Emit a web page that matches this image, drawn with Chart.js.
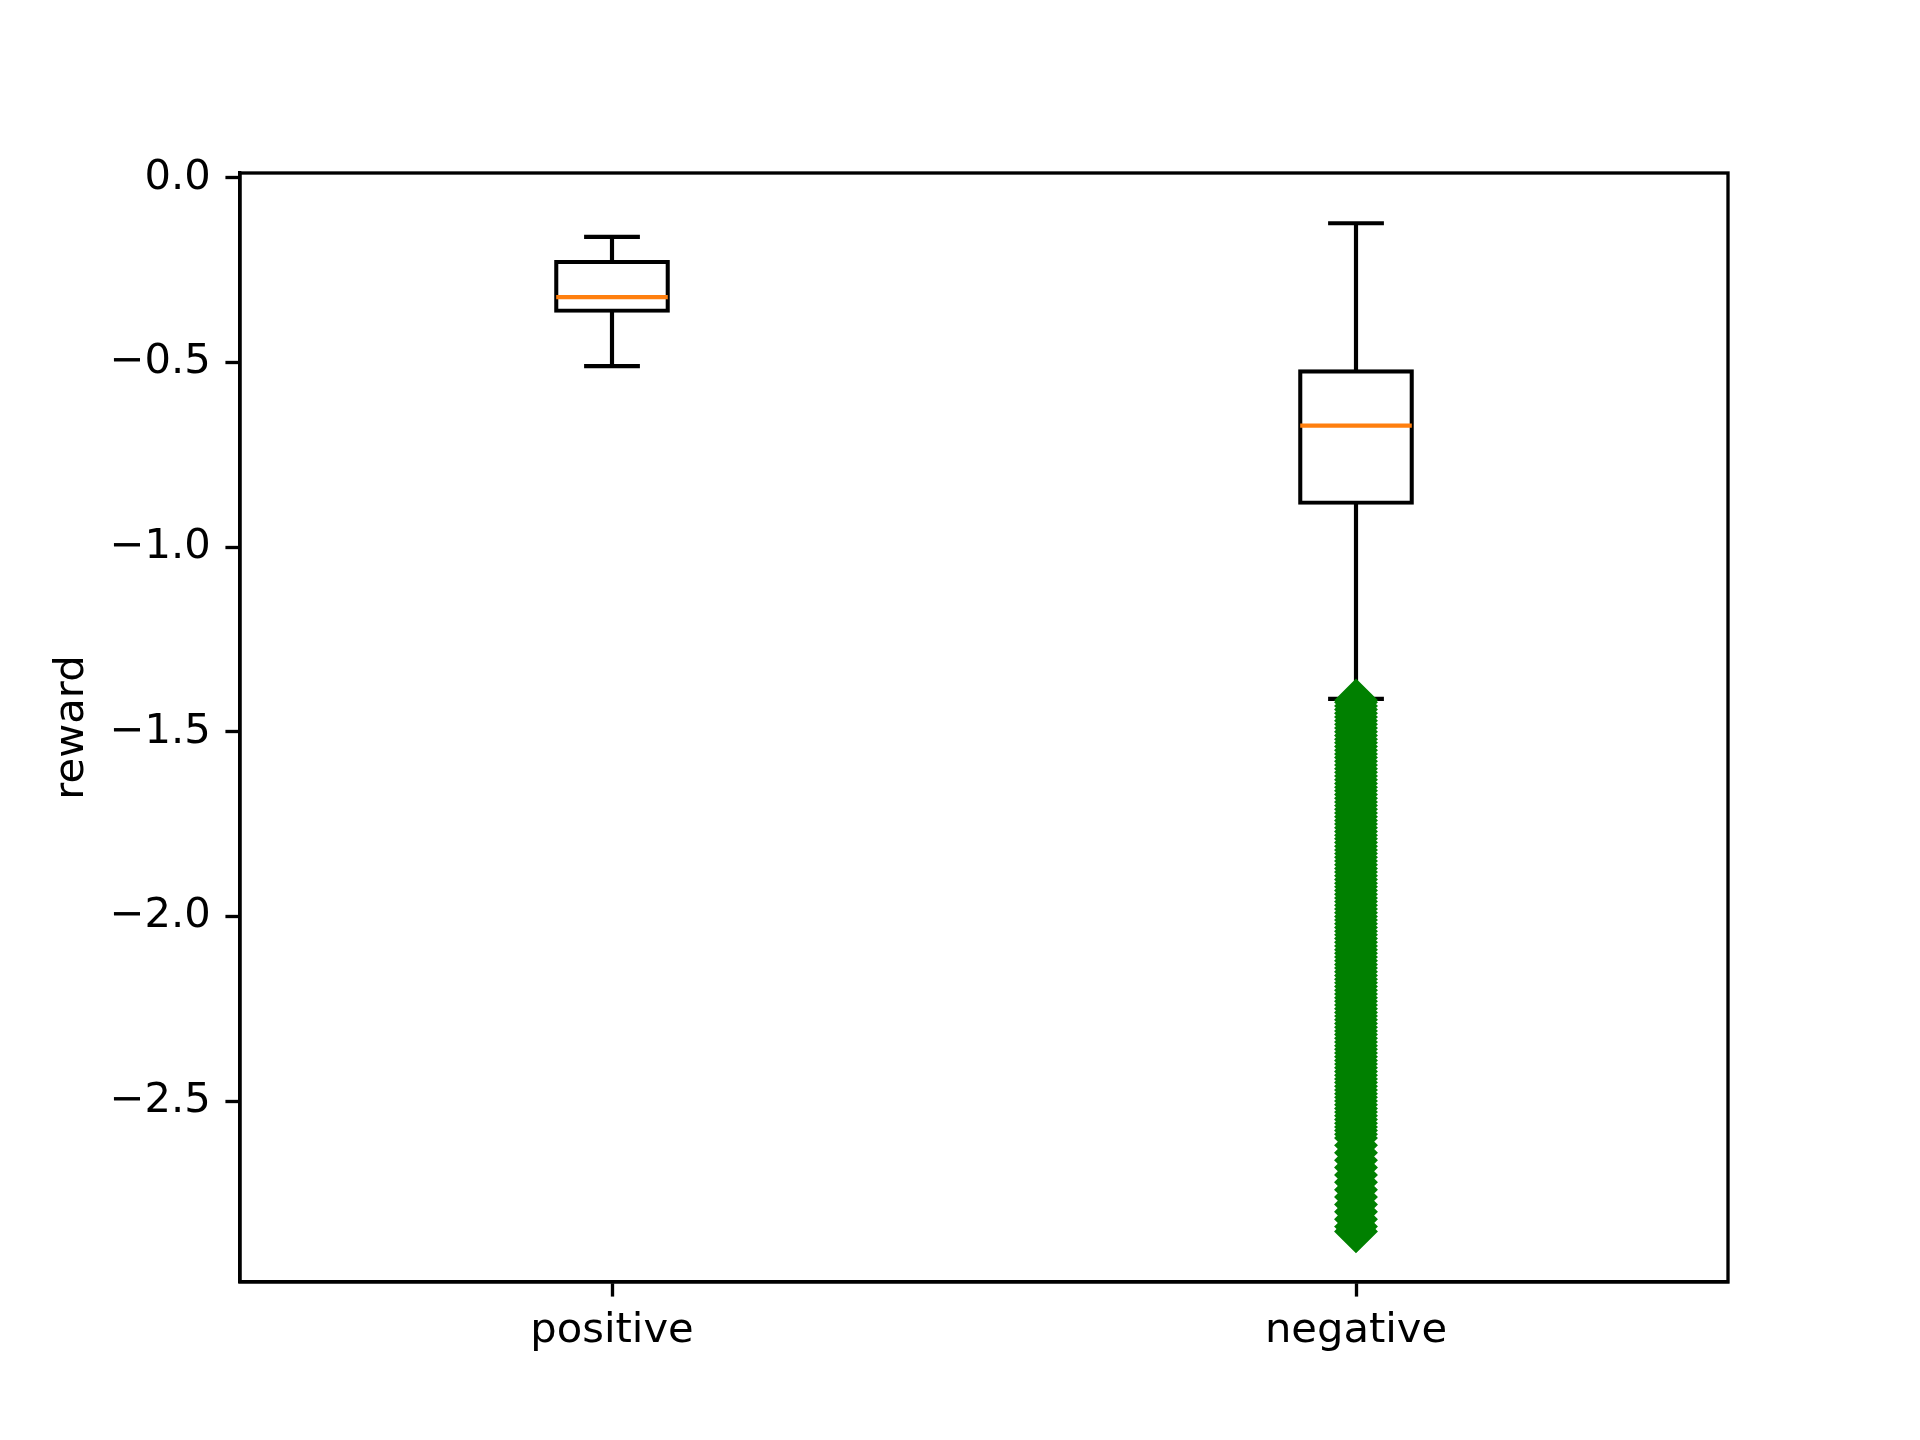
<!DOCTYPE html>
<html>
<head>
<meta charset="utf-8">
<script src="https://cdn.jsdelivr.net/npm/chart.js@4/dist/chart.umd.min.js"></script>
<style>
  html, body { margin: 0; padding: 0; background: #ffffff; }
  #wrap { width: 1920px; height: 1440px; }
</style>
</head>
<body>
<div id="wrap"><canvas id="c" width="1920" height="1440"></canvas></div>
<script>
// ---- data ----
const categories = ['positive', 'negative'];
const whiskerLow  = [-0.51, -1.411];
const q1          = [-0.36, -0.880];
const medians     = [-0.323, -0.671];
const q3          = [-0.228, -0.524];
const whiskerHigh = [-0.16, -0.123];
const negativeOutliers = [
  -1.415,-1.42,-1.43,-1.44,-1.45,-1.46,-1.47,-1.48,-1.49,
  -1.50,-1.51,-1.52,-1.53,-1.54,-1.55,-1.56,-1.57,-1.58,-1.59,
  -1.60,-1.61,-1.62,-1.63,-1.64,-1.65,-1.66,-1.67,-1.68,-1.69,
  -1.70,-1.71,-1.72,-1.73,-1.74,-1.75,-1.76,-1.77,-1.78,-1.79,
  -1.80,-1.81,-1.82,-1.83,-1.84,-1.85,-1.86,-1.87,-1.88,-1.89,
  -1.90,-1.91,-1.92,-1.93,-1.94,-1.95,-1.96,-1.97,-1.98,-1.99,
  -2.00,-2.01,-2.02,-2.03,-2.04,-2.05,-2.06,-2.07,-2.08,-2.09,
  -2.10,-2.11,-2.12,-2.13,-2.14,-2.15,-2.16,-2.17,-2.18,-2.19,
  -2.20,-2.21,-2.22,-2.23,-2.24,-2.25,-2.26,-2.27,-2.28,-2.29,
  -2.30,-2.31,-2.32,-2.33,-2.34,-2.35,-2.36,-2.37,-2.38,-2.39,
  -2.40,-2.41,-2.42,-2.43,-2.44,-2.45,-2.46,-2.47,-2.48,-2.49,
  -2.50,-2.51,-2.52,-2.53,-2.54,-2.55,-2.56,-2.57,-2.58,-2.59,
  -2.60,-2.62,-2.64,-2.66,-2.68,-2.70,-2.72,-2.74,-2.76,-2.78,
  -2.80,-2.82,-2.84,-2.853
];
const yTicks = [0.0, -0.5, -1.0, -1.5, -2.0, -2.5];
const yTickLabels = ['0.0', '\u22120.5', '\u22121.0', '\u22121.5', '\u22122.0', '\u22122.5'];
const yMin = -2.99, yMax = 0.013;
const yTitle = 'reward';

// ---- styles ----
const PT = 300 / 72;
const FONT = { family: 'DejaVu Sans', size: 10 * PT };
const LW = 1.0 * PT;       // box / whisker line width
const SPINE = 0.8 * PT;    // axes line width
const TICKLEN = 3.5 * PT;

const boxData = categories.map((c, i) => [q1[i], q3[i]]);
const flierData = negativeOutliers.map(v => ({ x: 'negative', y: v }));

const boxLines = {
  id: 'boxLines',
  afterDatasetDraw(chart, args) {
    if (args.meta.type !== 'bar') return;
    const ctx = chart.ctx;
    const y = chart.scales.y;
    ctx.save();
    ctx.lineCap = 'butt';
    args.meta.data.forEach((bar, i) => {
      const cx = bar.x;
      const half = bar.width / 2;
      const capHalf = half / 2;
      ctx.strokeStyle = '#000000';
      ctx.lineWidth = LW;
      // whiskers
      ctx.beginPath();
      ctx.moveTo(cx, y.getPixelForValue(q3[i]));
      ctx.lineTo(cx, y.getPixelForValue(whiskerHigh[i]));
      ctx.moveTo(cx, y.getPixelForValue(q1[i]));
      ctx.lineTo(cx, y.getPixelForValue(whiskerLow[i]));
      ctx.stroke();
      // caps
      ctx.beginPath();
      const yh = y.getPixelForValue(whiskerHigh[i]);
      const yl = y.getPixelForValue(whiskerLow[i]);
      ctx.moveTo(cx - capHalf, yh); ctx.lineTo(cx + capHalf, yh);
      ctx.moveTo(cx - capHalf, yl); ctx.lineTo(cx + capHalf, yl);
      ctx.stroke();
      // median
      ctx.strokeStyle = '#ff7f0e';
      ctx.beginPath();
      const ym = y.getPixelForValue(medians[i]);
      ctx.moveTo(cx - half, ym); ctx.lineTo(cx + half, ym);
      ctx.stroke();
    });
    ctx.restore();
  }
};

const frame = {
  id: 'frame',
  afterDraw(chart) {
    const a = chart.chartArea, ctx = chart.ctx;
    ctx.save();
    ctx.strokeStyle = '#000000';
    ctx.lineWidth = SPINE;
    ctx.strokeRect(a.left, a.top, a.right - a.left, a.bottom - a.top);
    ctx.restore();
  }
};

new Chart(document.getElementById('c'), {
  data: {
    labels: categories,
    datasets: [
      {
        type: 'bar',
        data: boxData,
        backgroundColor: 'rgba(0,0,0,0)',
        borderColor: '#000000',
        borderWidth: 0.02,
        inflateAmount: LW / 2 - 0.01,
        borderSkipped: false,
        barPercentage: 0.15,
        categoryPercentage: 1.0,
        order: 2
      },
      {
        type: 'line',
        data: flierData,
        showLine: false,
        pointStyle: 'rectRot',
        pointRadius: 19,
        pointBackgroundColor: '#008000',
        pointBorderColor: '#008000',
        pointBorderWidth: LW,
        order: 1
      }
    ]
  },
  options: {
    responsive: false,
    devicePixelRatio: 1,
    animation: false,
    events: [],
    layout: { padding: { top: 173, right: 192, bottom: 0, left: 0 } },
    plugins: { legend: { display: false }, tooltip: { enabled: false } },
    scales: {
      x: {
        type: 'category',
        offset: true,
        grid: { display: true, drawOnChartArea: false, offset: false, tickLength: TICKLEN, tickWidth: SPINE, tickColor: '#000000' },
        border: { display: true, color: '#000000', width: SPINE },
        ticks: { color: '#000000', font: FONT, padding: 10, maxRotation: 0 },
        afterFit(s) { s.height = 158; }
      },
      y: {
        type: 'linear',
        min: yMin,
        max: yMax,
        grid: { display: true, drawOnChartArea: false, tickLength: TICKLEN, tickWidth: SPINE, tickColor: '#000000' },
        border: { display: true, color: '#000000', width: SPINE },
        ticks: {
          color: '#000000', font: FONT, padding: 3.5 * PT,
          callback(v) { const i = yTicks.indexOf(v); return i >= 0 ? yTickLabels[i] : ''; }
        },
        afterBuildTicks(s) { s.ticks = yTicks.map(v => ({ value: v })); },
        title: { display: true, text: yTitle, color: '#000000', font: FONT, padding: { top: 47, bottom: 0 } },
        afterFit(s) { s.width = 240; }
      }
    }
  },
  plugins: [boxLines, frame]
});
</script>
</body>
</html>
